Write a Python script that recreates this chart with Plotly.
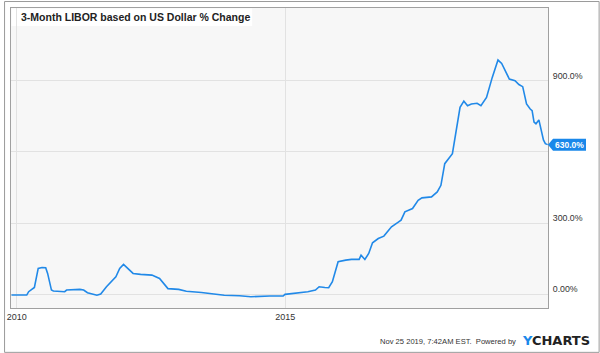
import plotly.graph_objects as go

# ---- data ----
dates = [
    "2009-11-26", "2010-03-10", "2010-03-23", "2010-05-01", "2010-05-27", "2010-06-22",
    "2010-07-17", "2010-07-30", "2010-08-25", "2010-09-07", "2010-11-23", "2010-12-06",
    "2011-03-06", "2011-04-01", "2011-04-27", "2011-06-30", "2011-07-26", "2011-09-03",
    "2011-11-06", "2011-12-02", "2011-12-28", "2012-01-23", "2012-03-02", "2012-04-22",
    "2012-07-08", "2012-08-29", "2012-09-24", "2012-10-25", "2013-01-06", "2013-02-27",
    "2013-06-10", "2013-09-21", "2013-11-12", "2014-02-24", "2014-05-12", "2014-09-18",
    "2014-12-17", "2014-12-30", "2015-03-17", "2015-06-03", "2015-07-25", "2015-08-19",
    "2015-09-27", "2015-10-23", "2015-11-17", "2015-12-13", "2015-12-26", "2016-02-16",
    "2016-03-26", "2016-05-17", "2016-05-30", "2016-06-25", "2016-07-21", "2016-08-16",
    "2016-09-24", "2016-11-01", "2016-11-27", "2016-12-23", "2017-01-31", "2017-02-26",
    "2017-03-24", "2017-05-15", "2017-06-22", "2017-07-18", "2017-09-21", "2017-10-30",
    "2017-11-24", "2017-12-20", "2018-02-10", "2018-03-08", "2018-04-03", "2018-04-29",
    "2018-05-24", "2018-06-19", "2018-07-28", "2018-08-23", "2018-09-30", "2018-11-08",
    "2018-12-17", "2019-01-11", "2019-02-06", "2019-03-04", "2019-04-12", "2019-05-08",
    "2019-06-03", "2019-06-29", "2019-07-24", "2019-08-06", "2019-08-19", "2019-09-01",
    "2019-09-21", "2019-10-09", "2019-10-22", "2019-11-04", "2019-11-20",
]
pct_change = [
    -3, -3, 11, 29, 109, 113,
    112, 88, 18, 14, 11, 18,
    21, 18, 7, -4, 1, 32,
    74, 109, 126, 109, 88, 84,
    81, 67, 46, 24, 21, 13,
    8, 0, -4, -6, -10, -7,
    -7, 0, 4, 11, 18, 32,
    29, 28, 53, 116, 137, 144,
    147, 147, 165, 147, 172, 217,
    235, 245, 263, 284, 301, 312,
    347, 361, 396, 406, 410, 431,
    459, 550, 592, 690, 787, 813,
    794, 801, 804, 794, 829, 913,
    986, 972, 941, 906, 899, 883,
    874, 801, 780, 773, 725, 718,
    734, 676, 650, 634, 630,
]

title_text = "3-Month LIBOR based on US Dollar % Change"
x_tick_vals = ["2010-01-01", "2015-01-01"]
x_tick_text = ["2010", "2015"]
y_tick_vals = [0, 300, 600, 900]
y_tick_text = ["0.00%", "300.0%", "", "900.0%"]
x_range = ["2009-11-23", "2019-11-22"]
y_range = [-57.5, 1205]

BLUE = "#2189e8"
L, R, T, B = 7, 52, 7, 45
W, H = 600, 353
PW, PH = W - L - R, H - T - B

fig = go.Figure()
fig.add_trace(go.Scatter(
    x=dates, y=pct_change, mode="lines",
    line=dict(color=BLUE, width=1.6, shape="linear"),
    hoverinfo="skip", showlegend=False,
))

last_val = pct_change[-1]

fig.update_layout(
    width=W, height=H,
    margin=dict(l=L, r=R, t=T, b=B),
    paper_bgcolor="white",
    plot_bgcolor="#f7f7f7",
    font=dict(family="Liberation Sans, Arial, sans-serif", color="#333333"),
    xaxis=dict(
        type="date", range=x_range,
        tickvals=x_tick_vals, ticktext=x_tick_text,
        showgrid=True, gridcolor="#e2e2e2", gridwidth=1,
        showline=True, linecolor="#a0a0a0", linewidth=1, mirror=True,
        ticks="", tickfont=dict(size=9, color="#333333"),
        zeroline=False, fixedrange=True,
    ),
    yaxis=dict(
        range=y_range, side="right",
        tickvals=y_tick_vals, ticktext=y_tick_text,
        showgrid=True, gridcolor="#e2e2e2", gridwidth=1,
        showline=True, linecolor="#a0a0a0", linewidth=1, mirror=True,
        ticks="", tickfont=dict(size=8.8, color="#333333"),
        ticklabelshift=-5, ticklabelstandoff=2,
        zeroline=False, fixedrange=True,
    ),
)

shapes = [
    # outer frame
    dict(type="rect", xref="paper", yref="paper",
         x0=(-L + 0.5) / PW, x1=(PW + R - 0.5) / PW,
         y0=(-B + 0.5) / PH, y1=(PH + T - 0.5) / PH,
         line=dict(color="#9a9a9a", width=1), fillcolor="rgba(0,0,0,0)", layer="above"),
    # title box
    dict(type="rect", xref="paper", yref="paper",
         x0=0.5 / PW, x1=(250 - L) / PW,
         y0=1 - (25 - T) / PH, y1=1 - 0.5 / PH,
         line=dict(width=0), fillcolor="white", layer="between"),
    # last value badge
    dict(type="path", xref="paper", yref="y",
         xsizemode="pixel", ysizemode="pixel",
         xanchor=1, yanchor=last_val,
         path="M 0 0 L 5 6 L 38 6 L 38 -6 L 5 -6 Z",
         fillcolor="#1a88ea", line=dict(width=0), layer="above"),
]
fig.update_layout(shapes=shapes)

fig.add_annotation(
    text="<b>" + title_text + "</b>", xref="paper", yref="paper",
    x=(15 - L) / PW, y=1 - (16 - T) / PH, xanchor="left", yanchor="middle",
    showarrow=False, font=dict(size=10.5, color="#222222",
                               family="Liberation Sans, Arial, sans-serif"),
)
fig.add_annotation(
    text="<b>%.1f%%</b>" % last_val, xref="paper", yref="y",
    x=1, y=last_val, xanchor="left", yanchor="middle", xshift=5,
    showarrow=False, font=dict(size=8.5, color="white"),
)
fig.add_annotation(
    text="Nov 25 2019, 7:42AM EST.  Powered by", xref="paper", yref="paper",
    x=(518 - L) / PW, y=-(342 - (H - B)) / PH, xanchor="right", yanchor="middle",
    showarrow=False, font=dict(size=7.6, color="#333333"),
)
fig.add_annotation(
    text="<b><span style='color:#1a88ea'>Y</span>CHARTS</b>", xref="paper", yref="paper",
    x=(520 - L) / PW, y=-(341 - (H - B)) / PH, xanchor="left", yanchor="middle",
    showarrow=False, font=dict(size=13, color="#222222", family="DejaVu Sans, sans-serif"),
)

fig.write_html("out.html")
